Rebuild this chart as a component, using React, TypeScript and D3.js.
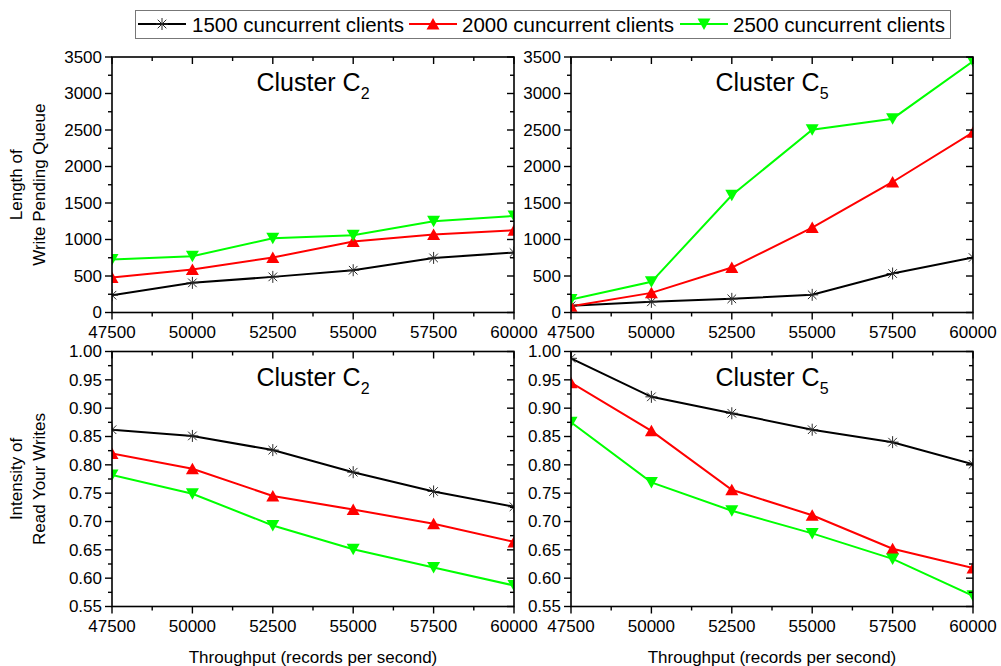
import React from "react";
import * as d3 from "d3";

// Throughput levels on the x axis (records per second)
const throughput = [47500, 50000, 52500, 55000, 57500, 60000];
const clientLevels = ["1500 cuncurrent clients", "2000 cuncurrent clients", "2500 cuncurrent clients"];

// Length of write pending queue
const queueC2_1500 = [237, 406, 488, 579, 748, 821];
const queueC2_2000 = [479, 588, 753, 972, 1068, 1127];
const queueC2_2500 = [725, 771, 1017, 1058, 1250, 1323];
const queueC5_1500 = [91, 146, 187, 242, 534, 753];
const queueC5_2000 = [87, 269, 616, 1163, 1788, 2468];
const queueC5_2500 = [178, 420, 1606, 2505, 2655, 3440];

// Intensity of read-your-writes
const rywC2_1500 = [0.862, 0.851, 0.826, 0.787, 0.753, 0.726];
const rywC2_2000 = [0.82, 0.793, 0.745, 0.721, 0.696, 0.664];
const rywC2_2500 = [0.782, 0.749, 0.693, 0.651, 0.619, 0.587];
const rywC5_1500 = [0.988, 0.92, 0.891, 0.862, 0.84, 0.801];
const rywC5_2000 = [0.945, 0.86, 0.756, 0.711, 0.652, 0.618];
const rywC5_2500 = [0.875, 0.769, 0.719, 0.679, 0.634, 0.569];

const xTicks = [47500, 50000, 52500, 55000, 57500, 60000];
const queueTicks = [0, 500, 1000, 1500, 2000, 2500, 3000, 3500];
const rywTicks = [0.55, 0.6, 0.65, 0.7, 0.75, 0.8, 0.85, 0.9, 0.95, 1.0];

const COLORS = ["#000000", "#ff0000", "#00ff00"];
const FONT = "'Liberation Sans', Arial, Helvetica, sans-serif";

function Marker({ kind, x, y }: { kind: number; x: number; y: number }) {
  if (kind === 0) {
    return (
      <path
        transform={`translate(${x},${y})`}
        d="M-6,0H6M0,-6V6M-4.3,-4.3L4.3,4.3M-4.3,4.3L4.3,-4.3"
        stroke="#2a2a2a"
        strokeWidth={1}
        fill="none"
      />
    );
  }
  const d = kind === 1 ? "M0,-6L6.5,5.5L-6.5,5.5Z" : "M0,6L6.5,-5.5L-6.5,-5.5Z";
  return <path transform={`translate(${x},${y})`} d={d} fill={COLORS[kind]} />;
}

type PanelProps = {
  id: string;
  x0: number;
  x1: number;
  y0: number;
  y1: number;
  yDomain: [number, number];
  yTicks: number[];
  yMinorStep: number;
  yFmt: (v: number) => string;
  sub: string;
  series: number[][];
  yLabel?: string[];
  xLabel?: string;
};

function Panel(p: PanelProps) {
  const x = d3.scaleLinear().domain([47500, 60000]).range([p.x0, p.x1]);
  const y = d3.scaleLinear().domain(p.yDomain).range([p.y1, p.y0]);
  const xMinor = d3.range(47500, 60000 + 1, 1250);
  const nMinor = Math.round((p.yDomain[1] - p.yDomain[0]) / p.yMinorStep);
  const yMinor = d3.range(0, nMinor + 1).map((i) => p.yDomain[0] + i * p.yMinorStep);
  const line = d3
    .line<number>()
    .x((_, i) => x(throughput[i]))
    .y((v) => y(v));
  const cx = (p.x0 + p.x1) / 2;
  const cy = (p.y0 + p.y1) / 2;
  const tickLines: React.ReactNode[] = [];
  xMinor.forEach((v, i) => {
    const major = xTicks.includes(v);
    const len = major ? 7 : 4;
    const xx = x(v);
    tickLines.push(<line key={`xb${i}`} x1={xx} x2={xx} y1={p.y1} y2={p.y1 + len} />);
    tickLines.push(<line key={`xt${i}`} x1={xx} x2={xx} y1={p.y0} y2={p.y0 + len} />);
  });
  yMinor.forEach((v, i) => {
    const major = p.yTicks.some((t) => Math.abs(t - v) < 1e-9);
    const len = major ? 7 : 4;
    const yy = y(v);
    tickLines.push(<line key={`yl${i}`} x1={p.x0 - len} x2={p.x0} y1={yy} y2={yy} />);
    tickLines.push(<line key={`yr${i}`} x1={p.x1 - len} x2={p.x1} y1={yy} y2={yy} />);
  });
  return (
    <g>
      <defs>
        <clipPath id={p.id}>
          <rect x={p.x0} y={p.y0} width={p.x1 - p.x0} height={p.y1 - p.y0} />
        </clipPath>
      </defs>
      <g clipPath={`url(#${p.id})`}>
        {p.series.map((s, k) => (
          <path key={`l${k}`} d={line(s) || ""} fill="none" stroke={COLORS[k]} strokeWidth={2} />
        ))}
        {p.series.map((s, k) =>
          s.map((v, i) => <Marker key={`m${k}-${i}`} kind={k} x={x(throughput[i])} y={y(v)} />)
        )}
      </g>
      <rect
        x={p.x0}
        y={p.y0}
        width={p.x1 - p.x0}
        height={p.y1 - p.y0}
        fill="none"
        stroke="#000"
        strokeWidth={1.6}
      />
      <g stroke="#000" strokeWidth={1.4}>
        {tickLines}
      </g>
      <g fontFamily={FONT} fontSize={17} fill="#000">
        {p.yTicks.map((t) => (
          <text key={`yt${t}`} x={p.x0 - 10} y={y(t)} dy="0.35em" textAnchor="end">
            {p.yFmt(t)}
          </text>
        ))}
        {xTicks.map((t) => (
          <text key={`xt${t}`} x={x(t)} y={p.y1 + 25} textAnchor="middle">
            {String(t)}
          </text>
        ))}
      </g>
      <text x={cx} y={p.y0 + 34} textAnchor="middle" fontFamily={FONT} fontSize={25} fill="#000">
        Cluster C
        <tspan fontSize={16} dy={8}>
          {p.sub}
        </tspan>
      </text>
      {p.yLabel && (
        <g fontFamily={FONT} fontSize={17} fill="#000">
          <text transform={`translate(22,${cy}) rotate(-90)`} textAnchor="middle">
            {p.yLabel[0]}
          </text>
          <text transform={`translate(45,${cy}) rotate(-90)`} textAnchor="middle">
            {p.yLabel[1]}
          </text>
        </g>
      )}
      {p.xLabel && (
        <text x={cx} y={663} textAnchor="middle" fontFamily={FONT} fontSize={17} fill="#000">
          {p.xLabel}
        </text>
      )}
    </g>
  );
}

function Legend() {
  const items = [
    { x0: 138, tx: 192 },
    { x0: 409, tx: 462 },
    { x0: 680, tx: 733 },
  ];
  return (
    <g>
      <rect x={135.5} y={10.5} width={815} height={28} fill="#fff" stroke="#777" strokeWidth={1} />
      {items.map((it, k) => (
        <g key={k}>
          <line x1={it.x0} x2={it.x0 + 48} y1={24} y2={24} stroke={COLORS[k]} strokeWidth={2} />
          <Marker kind={k} x={it.x0 + 24} y={24} />
          <text x={it.tx} y={32} fontFamily={FONT} fontSize={20.5} fill="#000">
            {clientLevels[k]}
          </text>
        </g>
      ))}
    </g>
  );
}

export default function App() {
  const fmtInt = d3.format("d");
  const fmt2 = d3.format(".2f");
  return (
    <svg
      width={1001}
      height={666}
      style={{ position: "absolute", left: 0, top: 0, background: "#fff" }}
    >
      <rect width={1001} height={666} fill="#fff" />
      <Legend />
      <Panel
        id="clipTL"
        x0={112}
        x1={514}
        y0={57}
        y1={312.5}
        yDomain={[0, 3500]}
        yTicks={queueTicks}
        yMinorStep={250}
        yFmt={fmtInt}
        sub="2"
        series={[queueC2_1500, queueC2_2000, queueC2_2500]}
        yLabel={["Length of", "Write Pending Queue"]}
      />
      <Panel
        id="clipTR"
        x0={571}
        x1={973}
        y0={57}
        y1={312.5}
        yDomain={[0, 3500]}
        yTicks={queueTicks}
        yMinorStep={250}
        yFmt={fmtInt}
        sub="5"
        series={[queueC5_1500, queueC5_2000, queueC5_2500]}
      />
      <Panel
        id="clipBL"
        x0={112}
        x1={514}
        y0={351.5}
        y1={606.5}
        yDomain={[0.55, 1.0]}
        yTicks={rywTicks}
        yMinorStep={0.025}
        yFmt={fmt2}
        sub="2"
        series={[rywC2_1500, rywC2_2000, rywC2_2500]}
        yLabel={["Intensity of", "Read Your Writes"]}
        xLabel="Throughput (records per second)"
      />
      <Panel
        id="clipBR"
        x0={571}
        x1={973}
        y0={351.5}
        y1={606.5}
        yDomain={[0.55, 1.0]}
        yTicks={rywTicks}
        yMinorStep={0.025}
        yFmt={fmt2}
        sub="5"
        series={[rywC5_1500, rywC5_2000, rywC5_2500]}
        xLabel="Throughput (records per second)"
      />
    </svg>
  );
}
